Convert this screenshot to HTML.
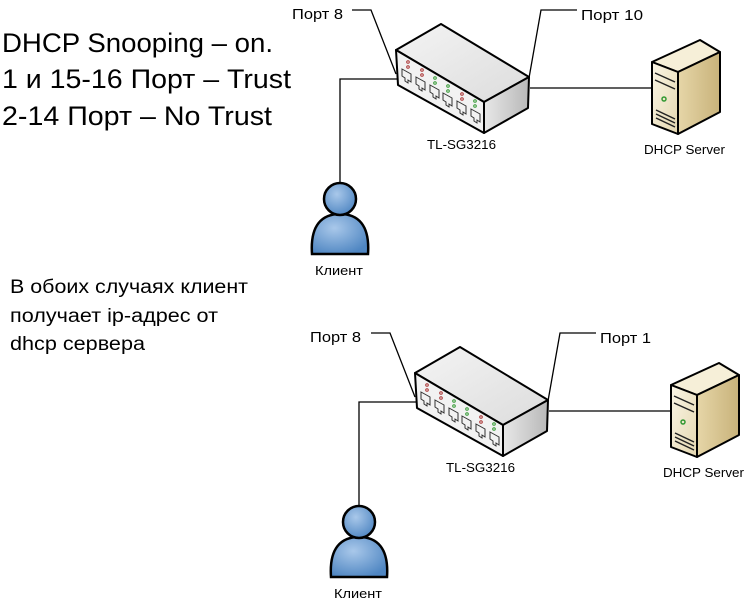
<!DOCTYPE html>
<html><head><meta charset="utf-8"><style>
html,body{margin:0;padding:0;background:#fff;}
svg{display:block;font-family:"Liberation Sans","DejaVu Sans",sans-serif;}
</style></head><body>
<svg width="745" height="603" viewBox="0 0 745 603" xmlns="http://www.w3.org/2000/svg">
<defs>
<linearGradient id="top" x1="0" y1="0" x2="1" y2="1"><stop offset="0" stop-color="#f4f4f4"/><stop offset="1" stop-color="#dcdcdc"/></linearGradient>
<linearGradient id="side" x1="0" y1="0" x2="1" y2="0"><stop offset="0" stop-color="#e8e8e8"/><stop offset="1" stop-color="#b8b8b8"/></linearGradient>
<linearGradient id="sfront" x1="0" y1="0" x2="1" y2="1"><stop offset="0" stop-color="#fbf6e6"/><stop offset="1" stop-color="#e4d7b0"/></linearGradient>
<linearGradient id="sside" x1="0" y1="0" x2="1" y2="0"><stop offset="0" stop-color="#e6d6a8"/><stop offset="1" stop-color="#c8b27a"/></linearGradient>
<radialGradient id="pg" cx="0.4" cy="0.35" r="0.7"><stop offset="0" stop-color="#a9c8ea"/><stop offset="1" stop-color="#4f86c2"/></radialGradient>
<g id="diag">
  <g stroke="#000" stroke-width="1.3" fill="none">
    <polyline points="352,10 371,10 396,74"/>
    <polyline points="577,10 541,10 529,78"/>
    <polyline points="397,79 340,79 340,182"/>
    <line x1="530" y1="88" x2="653" y2="88"/>
  </g>
  <g stroke="#000" stroke-width="2" stroke-linejoin="round">
    <polygon points="396,50 441,24 529,77 484,102" fill="url(#top)"/>
    <polygon points="484,102 529,77 528,108 484,133" fill="url(#side)"/>
    <polygon points="396,50 484,102 484,133 398,85" fill="#f2f2f2"/>
  </g>
  <g fill="none" stroke="#333" stroke-width="1">
    <path d="M402,69 l9,5 v8 l-3,-2 v3 l-3,-2 v-3 l-3,-2z"/>
    <path d="M416,77 l9,5 v8 l-3,-2 v3 l-3,-2 v-3 l-3,-2z"/>
    <path d="M430,85 l9,5 v8 l-3,-2 v3 l-3,-2 v-3 l-3,-2z"/>
    <path d="M443,93 l9,5 v8 l-3,-2 v3 l-3,-2 v-3 l-3,-2z"/>
    <path d="M457,101 l9,5 v8 l-3,-2 v3 l-3,-2 v-3 l-3,-2z"/>
    <path d="M471,109 l9,5 v8 l-3,-2 v3 l-3,-2 v-3 l-3,-2z"/>
  </g>
  <g stroke-width="1" fill="none">
    <circle cx="408" cy="62" r="1.3" stroke="#a33"/><circle cx="408" cy="67" r="1.3" stroke="#a33"/>
    <circle cx="422" cy="70" r="1.3" stroke="#a33"/><circle cx="422" cy="75" r="1.3" stroke="#a33"/>
    <circle cx="435" cy="78" r="1.3" stroke="#393"/><circle cx="435" cy="83" r="1.3" stroke="#393"/>
    <circle cx="448" cy="86" r="1.3" stroke="#393"/><circle cx="448" cy="91" r="1.3" stroke="#393"/>
    <circle cx="462" cy="94" r="1.3" stroke="#a33"/><circle cx="462" cy="99" r="1.3" stroke="#a33"/>
    <circle cx="475" cy="101" r="1.3" stroke="#393"/><circle cx="475" cy="106" r="1.3" stroke="#393"/>
  </g>
  <g stroke="#000" stroke-width="2" stroke-linejoin="round">
    <polygon points="652,62 700,40 720,52 678,72" fill="#f6efd8"/>
    <polygon points="678,72 720,52 720,112 678,134" fill="url(#sside)"/>
    <polygon points="652,62 678,72 678,134 652,124" fill="url(#sfront)"/>
  </g>
  <g stroke="#222" stroke-width="1.5" fill="none">
    <line x1="655" y1="73" x2="675" y2="82"/>
    <line x1="655" y1="80" x2="675" y2="89"/>
    <line x1="656" y1="110" x2="675" y2="119"/>
    <line x1="656" y1="114" x2="675" y2="123"/>
    <line x1="656" y1="118" x2="675" y2="127"/>
    <circle cx="664" cy="99" r="2" stroke="#393"/>
  </g>
  <path d="M312,254 C310,225 322,214 340,214 C358,214 370,225 368,254 Z" fill="url(#pg)" stroke="#000" stroke-width="2.5"/>
  <circle cx="340" cy="199" r="16" fill="url(#pg)" stroke="#000" stroke-width="2.5"/>
</g>
</defs>
<use href="#diag"/>
<use href="#diag" transform="translate(19,323)"/>

<g font-size="15" fill="#000">
  <text x="292" y="19" textLength="51" lengthAdjust="spacingAndGlyphs">Порт 8</text>
  <text x="581" y="20" textLength="62" lengthAdjust="spacingAndGlyphs">Порт 10</text>
  <text x="427" y="149" font-size="13" textLength="69" lengthAdjust="spacingAndGlyphs">TL-SG3216</text>
  <text x="644" y="154" font-size="13" textLength="81" lengthAdjust="spacingAndGlyphs">DHCP Server</text>
  <text x="315" y="275" font-size="13" textLength="48" lengthAdjust="spacingAndGlyphs">Клиент</text>

  <text x="310" y="342" textLength="51" lengthAdjust="spacingAndGlyphs">Порт 8</text>
  <text x="600" y="343" textLength="51" lengthAdjust="spacingAndGlyphs">Порт 1</text>
  <text x="446" y="472" font-size="13" textLength="69" lengthAdjust="spacingAndGlyphs">TL-SG3216</text>
  <text x="663" y="477" font-size="13" textLength="81" lengthAdjust="spacingAndGlyphs">DHCP Server</text>
  <text x="334" y="598" font-size="13" textLength="48" lengthAdjust="spacingAndGlyphs">Клиент</text>
</g>

<g font-size="27" fill="#000">
  <text x="2" y="52" textLength="271" lengthAdjust="spacingAndGlyphs">DHCP Snooping – on.</text>
  <text x="2" y="88" textLength="289" lengthAdjust="spacingAndGlyphs">1 и 15-16 Порт – Trust</text>
  <text x="2" y="125" textLength="270" lengthAdjust="spacingAndGlyphs">2-14 Порт – No Trust</text>
</g>
<g font-size="19" fill="#000">
  <text x="10" y="293" textLength="238" lengthAdjust="spacingAndGlyphs">В обоих случаях клиент</text>
  <text x="10" y="322" textLength="208" lengthAdjust="spacingAndGlyphs">получает ip-адрес от</text>
  <text x="10" y="350" textLength="135" lengthAdjust="spacingAndGlyphs">dhcp сервера</text>
</g>
</svg>
</body></html>
